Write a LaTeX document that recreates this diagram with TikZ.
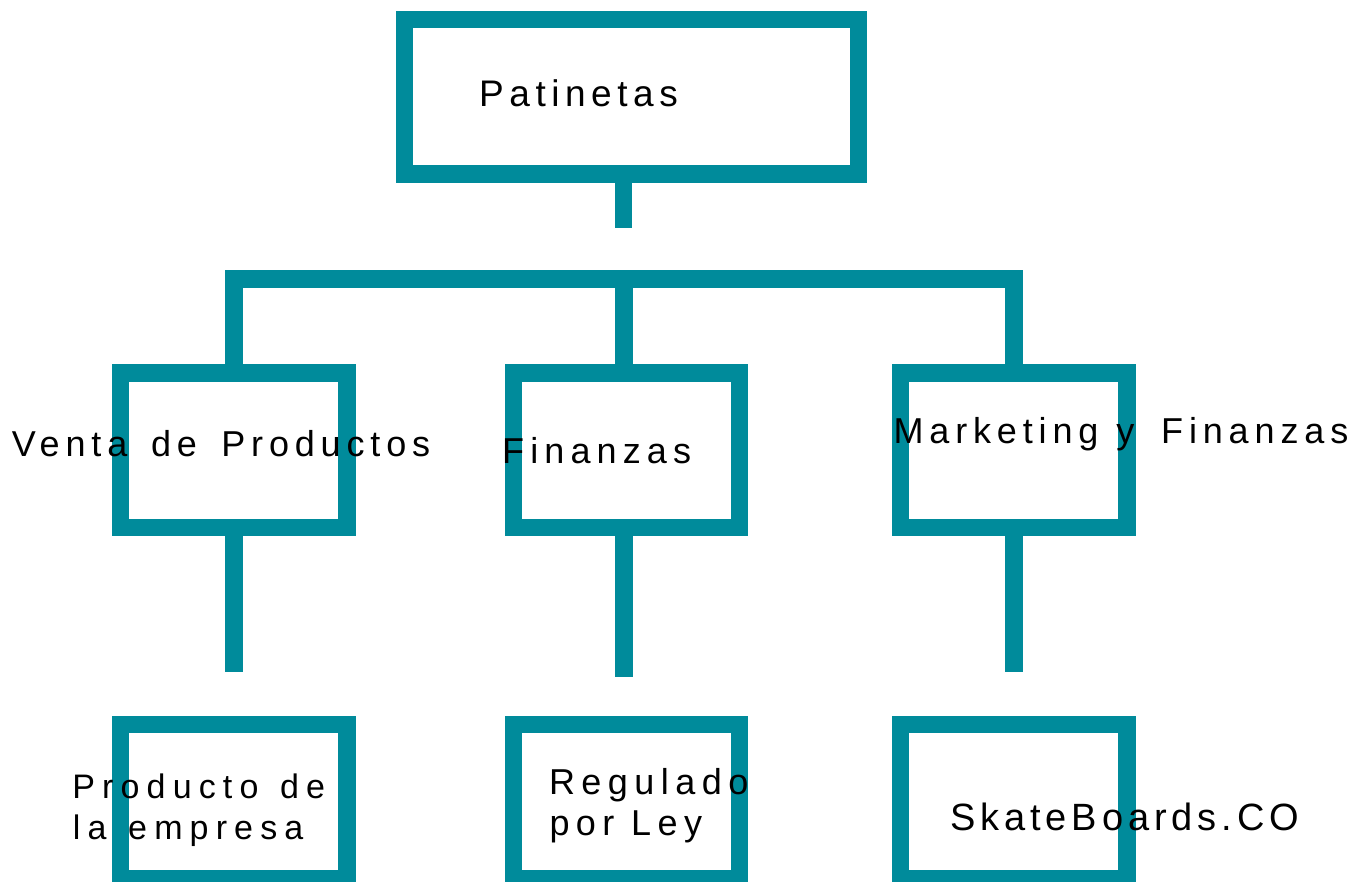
\documentclass[tikz,border=0pt]{standalone}
\usepackage{fontspec}
\setmainfont{Liberation Sans}
\definecolor{tealline}{RGB}{0,139,155}
\newcommand{\lsfont}[2]{\fontsize{#1}{#1}\selectfont\addfontfeature{LetterSpace=#2}}
\newcommand{\wsp}[1]{\hspace*{#1em}}
\begin{document}
\begin{tikzpicture}[x=1pt,y=-1pt,
  boxnode/.style={draw=tealline, line width=17.5pt, rectangle, inner sep=0pt,
    minimum width=226.3pt, minimum height=154.5pt},
  conn/.style={draw=tealline, line width=17.5pt, line cap=butt, line join=miter},
  lbl/.style={inner sep=0pt, anchor=base west, text=black}]
\useasboundingbox (0,0) rectangle (1354,881);
% boxes
\node[boxnode, minimum width=454.4pt, minimum height=154.3pt] (top) at (631.5,96.85) {};
\node[boxnode] (b1) at (233.85,450.45) {};
\node[boxnode] (b2) at (626.45,450.45) {};
\node[boxnode] (b3) at (1013.85,450.45) {};
\node[boxnode] (c1) at (233.85,801.5) {};
\node[boxnode] (c2) at (626.45,801.5) {};
\node[boxnode] (c3) at (1013.85,801.5) {};
% connectors
\coordinate (stubend) at (623.8,227.7);
\coordinate (bar) at (623.8,279);
\coordinate (e1) at (233.85,671.7);
\coordinate (e2) at (623.8,677);
\coordinate (e3) at (1013.85,671.7);
\draw[conn, line width=17pt] (top.south -| stubend) -- (stubend);
\draw[conn] (b1.north) |- (b3.north |- bar) -- (b3.north);
\draw[conn] (bar) -- (b2.north -| bar);
\draw[conn] (b1.south) -- (e1);
\draw[conn] (b2.south -| e2) -- (e2);
\draw[conn] (b3.south) -- (e3);
% labels
\node[lbl, font=\lsfont{37}{15}] (t0) at (479,106.7) {Patinetas};
\node[lbl, font=\lsfont{36}{16.2}] (t1) at (11.7,456) {Venta\wsp{0.66}de\wsp{0.68}Productos};
\node[lbl, font=\lsfont{36}{17}] (t2) at (502,463) {Finanzas};
\node[lbl, font=\lsfont{36}{16.3}] (t3) at (893.3,443.3) {Marketing\wsp{0.5}y\wsp{0.74}Finanzas};
\node[lbl, font=\lsfont{34}{21}] (t4a) at (72.2,798.3) {Producto\wsp{0.64}de};
\node[lbl, font=\lsfont{34}{21}] (t4b) at (72.7,839.3) {la\wsp{0.64}empresa};
\node[lbl, font=\lsfont{36}{18}] (t5a) at (548.8,794.3) {Regulado};
\node[lbl, font=\lsfont{36}{18}] (t5b) at (549.3,835) {por\wsp{0.46}Ley};
\node[lbl, font=\lsfont{38}{13}] (t6) at (949.8,830) {SkateBoards.CO};
\end{tikzpicture}
\end{document}
